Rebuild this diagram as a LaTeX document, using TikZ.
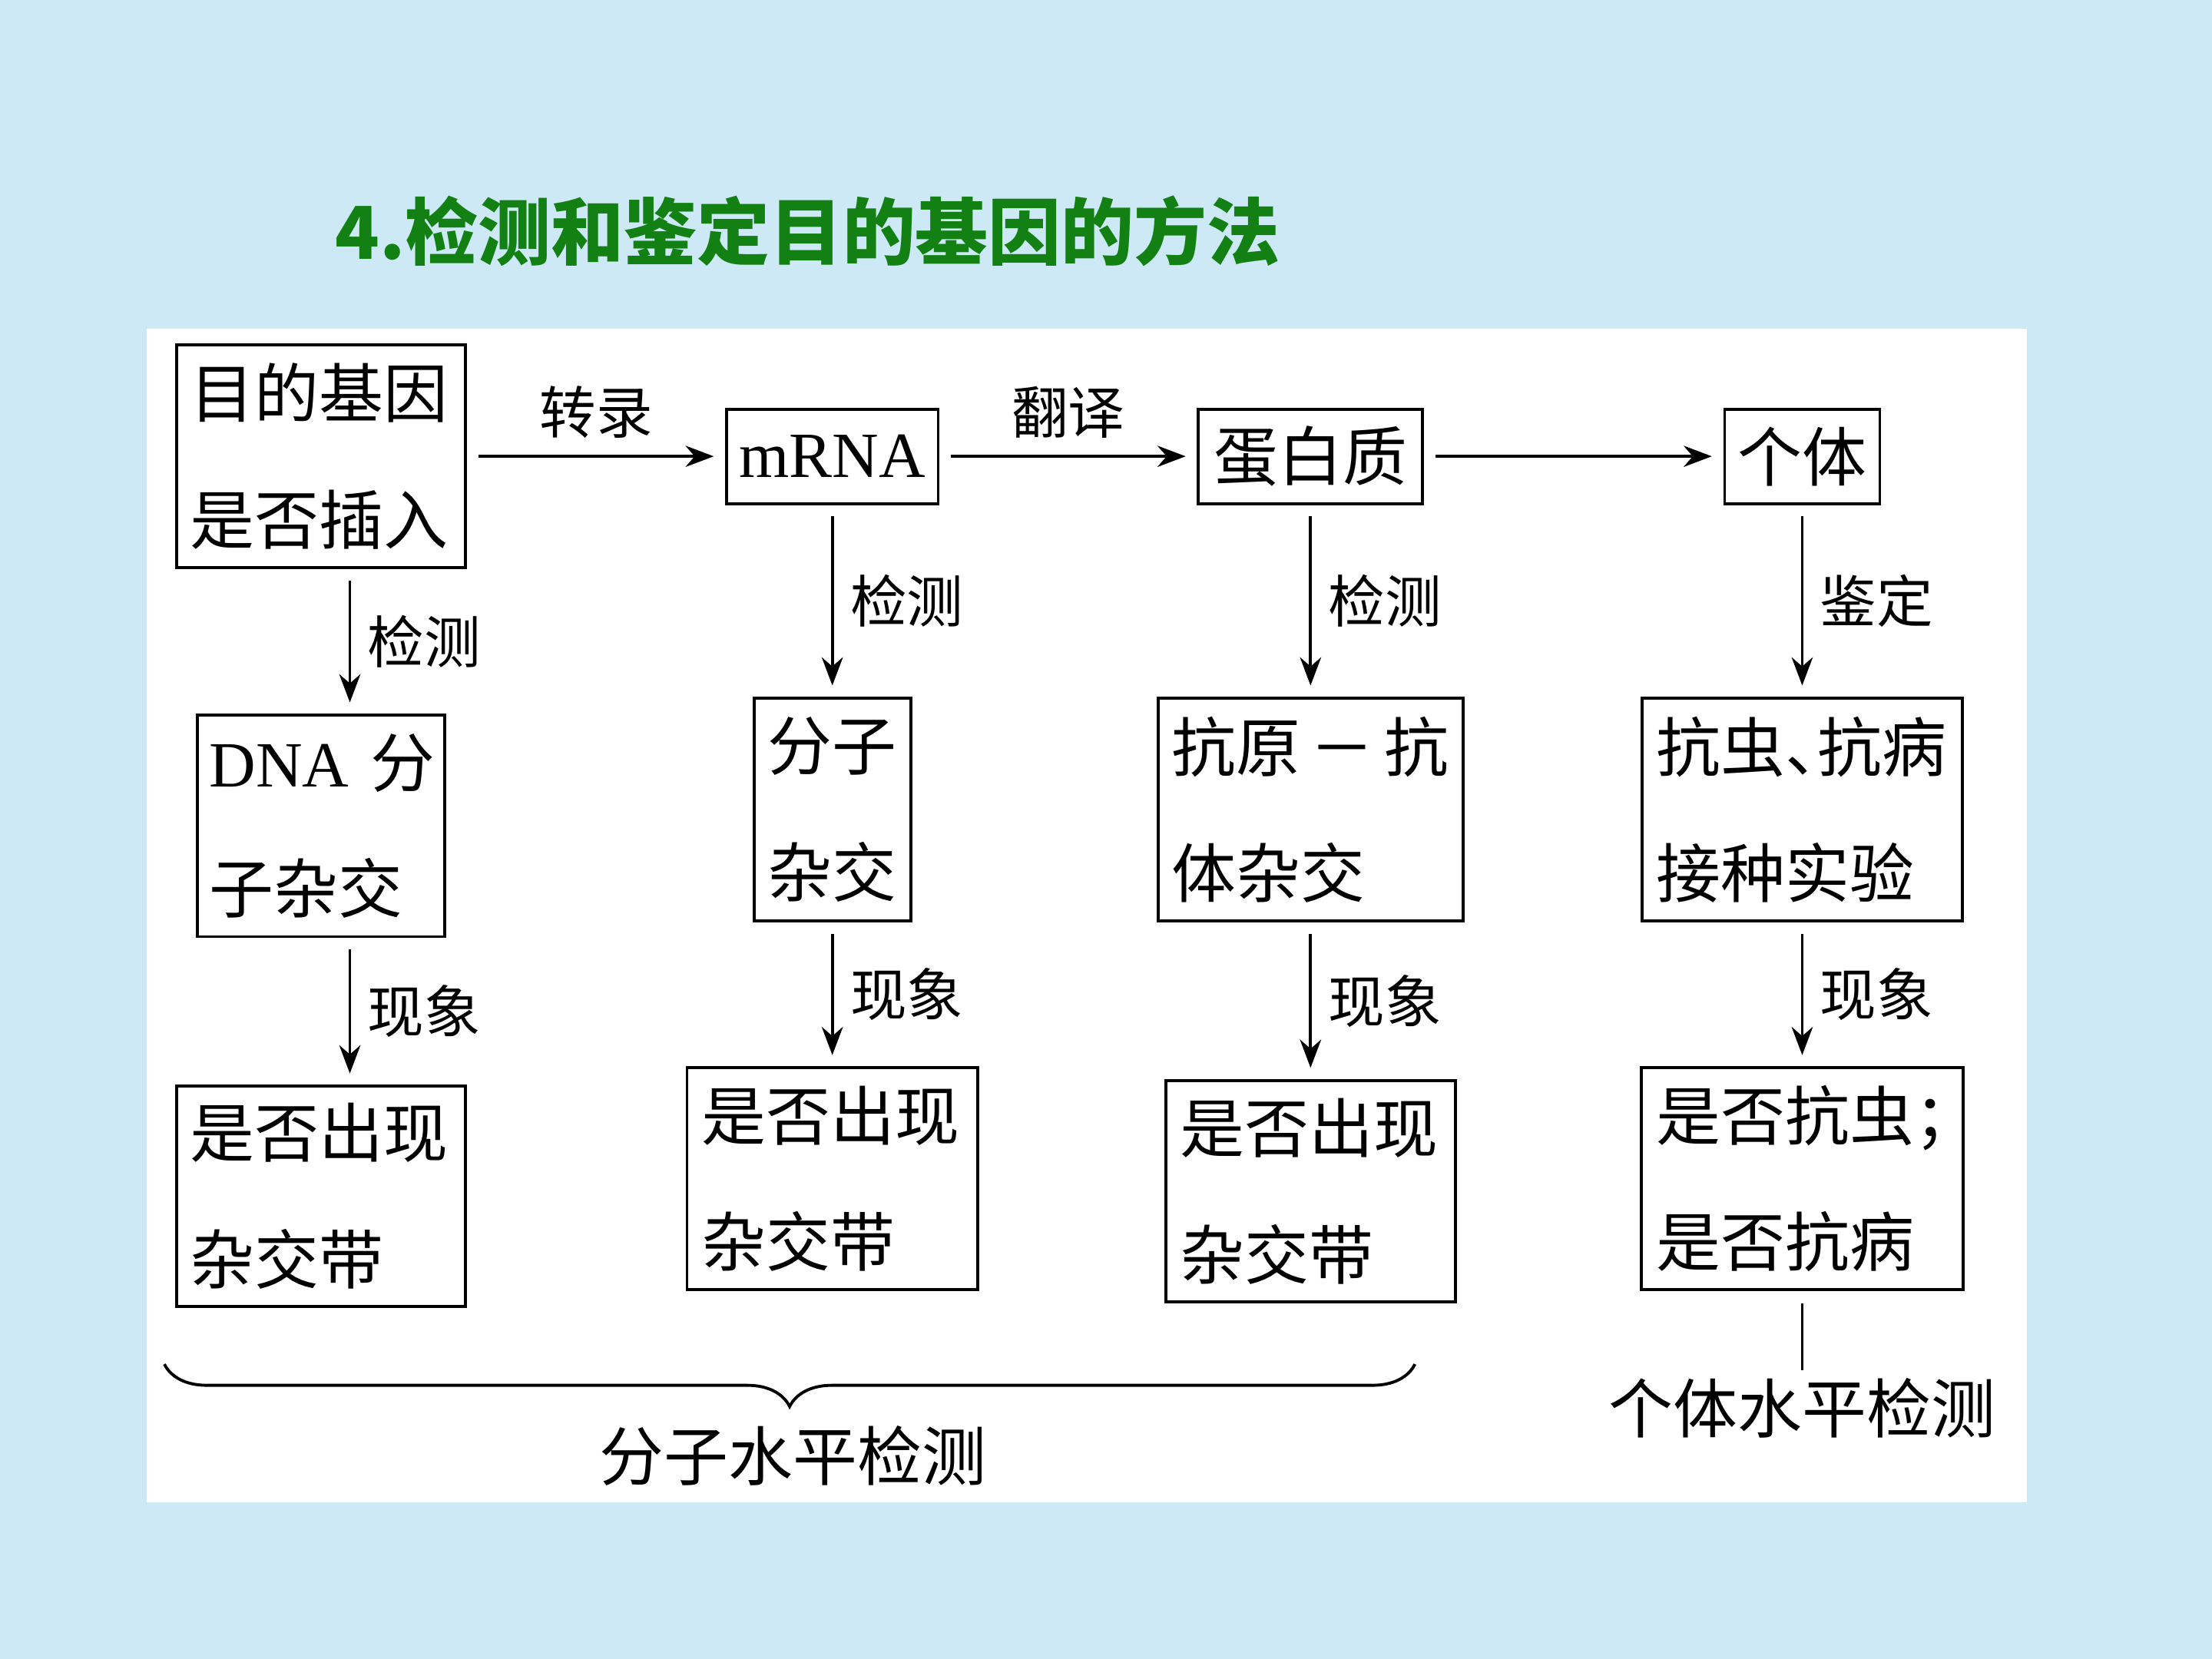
\documentclass[tikz,border=0pt]{standalone}
\usepackage{fontspec}
\setmainfont{Liberation Serif}
\newfontfamily\cjk{Noto Sans CJK SC}
\usepackage{xcolor}
\definecolor{Sky}{RGB}{204,233,245}
\definecolor{Green}{RGB}{18,128,18}
\definecolor{Black}{RGB}{0,0,0}
\definecolor{White}{RGB}{255,255,255}
\usetikzlibrary{arrows.meta, decorations.pathreplacing}

\tikzset{
	box/.style={draw=Black, line width=0.6pt, font=\cjk\fontsize{13pt}{25.5pt}\selectfont, inner xsep=0pt, inner ysep=0pt, align=left},
	flow/.style={-{Stealth[length=2mm, width=1.5mm]}, draw=Black, line width=0.6pt, shorten <=0.8mm, shorten >=0.8mm},
	tag/.style={font=\cjk\fontsize{11.4pt}{13pt}\selectfont, color=Black},
	level/.style={font=\cjk\fontsize{13pt}{15pt}\selectfont, color=Black, inner sep=0.5mm},
	brace/.style={draw=Black, line width=0.6pt, decorate, decoration={brace, mirror, amplitude=3mm}}
}

\begin{document}
\begin{tikzpicture}
		
		% Background
		\fill[Sky] (0,0) rectangle (15.68,11.76);
		\fill[White] (1.04,1.11) rectangle (14.37,9.43);
		
		% Title
		\node[anchor=base west, inner sep=0pt, color=Green, font=\cjk\bfseries\fontsize{14.7pt}{16pt}\selectfont] (title) at (2.37,9.92) {4.检测和鉴定目的基因的方法};
		
		% Top row
		\node[box, minimum width=2.05cm, minimum height=1.58cm, text width=1.85cm] (gene) at (2.275,8.525) {目的基因\\是否插入};
		\node[box, minimum width=1.50cm, minimum height=0.67cm] (mrna) at (5.90,8.525) {\rmfamily mRNA};
		\node[box, minimum width=1.59cm, minimum height=0.67cm] (protein) at (9.29,8.525) {蛋白质};
		\node[box, minimum width=1.10cm, minimum height=0.67cm] (indiv) at (12.775,8.525) {个体};
		
		% Methods
		\node[box, minimum width=1.75cm, minimum height=1.57cm, text width=1.58cm] (dnahyb) at (2.275,5.905) {\mbox{{\rmfamily DNA}~分}\\子杂交};
		\node[box, minimum width=1.11cm, minimum height=1.58cm, text width=0.92cm] (rnahyb) at (5.90,6.02) {分子\\杂交};
		\node[box, minimum width=2.16cm, minimum height=1.58cm, text width=1.97cm] (antigen) at (9.29,6.02) {抗原\kern0.15em－\kern0.15em抗\\体杂交};
		\node[box, minimum width=2.27cm, minimum height=1.58cm, text width=2.07cm] (inoc) at (12.775,6.02) {抗虫、\kern-0.5em抗病\\接种实验};
		
		% Results
		\node[box, minimum width=2.05cm, minimum height=1.56cm, text width=1.85cm] (band1) at (2.275,3.28) {是否出现\\杂交带};
		\node[box, minimum width=2.06cm, minimum height=1.57cm, text width=1.85cm] (band2) at (5.90,3.405) {是否出现\\杂交带};
		\node[box, minimum width=2.05cm, minimum height=1.57cm, text width=1.85cm] (band3) at (9.29,3.315) {是否出现\\杂交带};
		\node[box, minimum width=2.28cm, minimum height=1.57cm, text width=2.07cm] (resist) at (12.775,3.405) {是否抗虫\rlap{；}\\是否抗病};
		
		% Expression
		\draw[flow] (gene) -- (mrna) node[midway, above, tag] {转录};
		\draw[flow] (mrna) -- (protein) node[midway, above, tag] {翻译};
		\draw[flow] (protein) -- (indiv);
		
		% Detection
		\draw[flow] ([xshift=2.05mm]gene.south) -- ([xshift=2.05mm]dnahyb.north) node[midway, right, tag] {检测};
		\draw[flow] (mrna) -- (rnahyb) node[midway, right, tag] {检测};
		\draw[flow] (protein) -- (antigen) node[midway, right, tag] {检测};
		\draw[flow] (indiv) -- (inoc) node[midway, right, tag] {鉴定};
		
		\draw[flow] ([xshift=2.05mm]dnahyb.south) -- ([xshift=2.05mm]band1.north) node[midway, right, tag] {现象};
		\draw[flow] (rnahyb) -- (band2) node[midway, right, tag] {现象};
		\draw[flow] (antigen) -- (band3) node[midway, right, tag] {现象};
		\draw[flow] (inoc) -- (resist) node[midway, right, tag] {现象};
		
		% Levels
		\coordinate (braceL) at (1.165,2.09);
		\coordinate (braceR) at (10.03,2.09);
		\draw[brace] (braceL) -- (braceR);
		\node[level] (mollevel) at (5.62,1.44) {分子水平检测};
		
		\node[level] (indlevel) at (12.775,1.78) {个体水平检测};
		\draw[draw=Black, line width=0.6pt, shorten <=0.9mm] (resist) -- (indlevel);
		
	\end{tikzpicture}
\end{document}
